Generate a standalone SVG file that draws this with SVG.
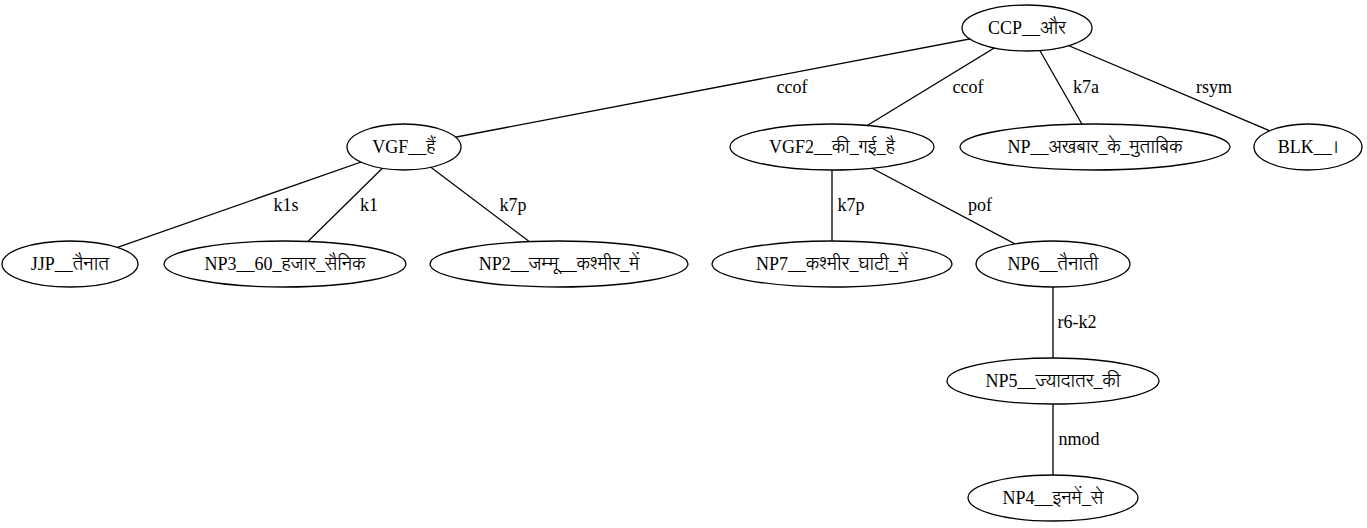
<svg xmlns="http://www.w3.org/2000/svg" width="1367" height="528" viewBox="0 0 1367 528">
<style>
text{font-family:'Liberation Serif','Lohit Devanagari',FreeSerif,serif;font-size:18px;fill:#000;text-anchor:middle}
.n ellipse{fill:#fff;stroke:#000;stroke-width:1.3}
#edges line{stroke:#000;stroke-width:1.3}
</style>
<rect width="1367" height="528" fill="#fff"/>
<g id="edges">
<line x1="1027" y1="28" x2="404" y2="147"/>
<line x1="1027" y1="28" x2="832" y2="147"/>
<line x1="1027" y1="28" x2="1095" y2="147"/>
<line x1="1027" y1="28" x2="1308" y2="147"/>
<line x1="404" y1="147" x2="70" y2="264"/>
<line x1="404" y1="147" x2="285" y2="264"/>
<line x1="404" y1="147" x2="559" y2="264"/>
<line x1="832" y1="147" x2="832" y2="264"/>
<line x1="832" y1="147" x2="1053" y2="264"/>
<line x1="1053" y1="264" x2="1053" y2="381"/>
<line x1="1053" y1="381" x2="1053" y2="498"/>
<text x="792" y="93">ccof</text>
<text x="968" y="93">ccof</text>
<text x="1086" y="93">k7a</text>
<text x="1214" y="93">rsym</text>
<text x="286" y="211">k1s</text>
<text x="369" y="211">k1</text>
<text x="513" y="211">k7p</text>
<text x="851" y="211">k7p</text>
<text x="980" y="211">pof</text>
<text x="1077" y="328">r6-k2</text>
<text x="1079" y="445">nmod</text>
</g>
<g id="CCP" class="n"><ellipse cx="1027" cy="28" rx="65" ry="23"/><text x="1027" y="34">CCP__और</text></g>
<g id="VGF" class="n"><ellipse cx="404" cy="147" rx="57" ry="23"/><text x="404" y="153">VGF__हैं</text></g>
<g id="VGF2" class="n"><ellipse cx="832" cy="147" rx="102" ry="23"/><text x="832" y="153">VGF2__की_गई_है</text></g>
<g id="NP" class="n"><ellipse cx="1095" cy="147" rx="135" ry="23"/><text x="1095" y="153">NP__अखबार_के_मुताबिक</text></g>
<g id="BLK" class="n"><ellipse cx="1308" cy="147" rx="54" ry="23"/><text x="1308" y="153">BLK__।</text></g>
<g id="JJP" class="n"><ellipse cx="70" cy="264" rx="68" ry="23"/><text x="70" y="270">JJP__तैनात</text></g>
<g id="NP3" class="n"><ellipse cx="285" cy="264" rx="121" ry="23"/><text x="285" y="270">NP3__60_हजार_सैनिक</text></g>
<g id="NP2" class="n"><ellipse cx="559" cy="264" rx="129" ry="23"/><text x="559" y="270">NP2__जम्मू__कश्मीर_में</text></g>
<g id="NP7" class="n"><ellipse cx="832" cy="264" rx="120" ry="23"/><text x="832" y="270">NP7__कश्मीर_घाटी_में</text></g>
<g id="NP6" class="n"><ellipse cx="1053" cy="264" rx="77" ry="23"/><text x="1053" y="270">NP6__तैनाती</text></g>
<g id="NP5" class="n"><ellipse cx="1053" cy="381" rx="106" ry="23"/><text x="1053" y="387">NP5__ज्यादातर_की</text></g>
<g id="NP4" class="n"><ellipse cx="1053" cy="498" rx="85" ry="23"/><text x="1053" y="504">NP4__इनमें_से</text></g>
</svg>
